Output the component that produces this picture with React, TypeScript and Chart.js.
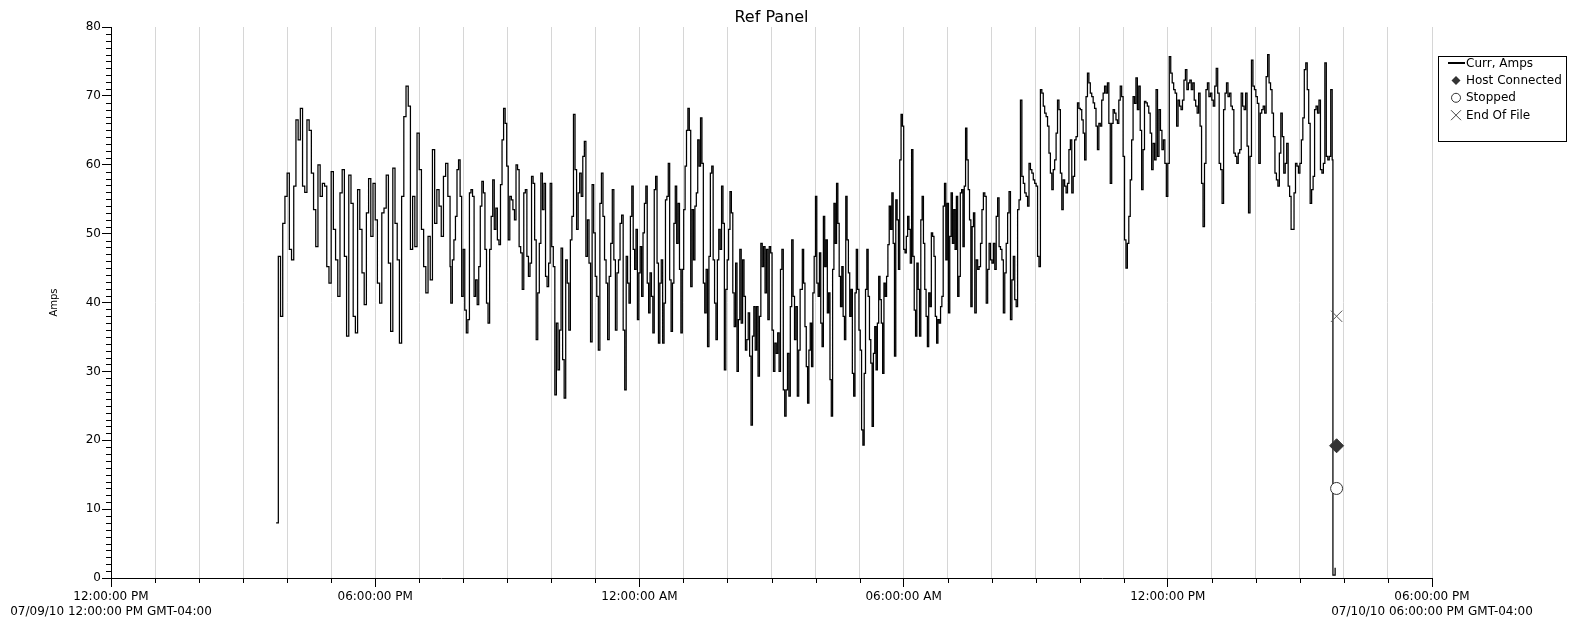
import React, { useEffect, useRef } from 'react';
import { Chart, registerables } from 'chart.js';

Chart.register(...registerables);

// ---- axis description (hours after 07/09/10 12:00:00 PM) ----
const axisStartHour = 0;
const axisEndHour = 30;
const majorTickHours = [0, 6, 12, 18, 24, 30];
const majorTickLabels = ['12:00:00 PM', '06:00:00 PM', '12:00:00 AM', '06:00:00 AM', '12:00:00 PM', '06:00:00 PM'];
const startDateLabel = '07/09/10 12:00:00 PM GMT-04:00';
const endDateLabel = '07/10/10 06:00:00 PM GMT-04:00';
const yMin = 0;
const yMax = 80;

const chartTitle = 'Ref Panel';
const yAxisTitle = 'Amps';
const seriesLabel = 'Curr, Amps';

// ---- sampled current, split into consecutive recording segments ----
// minutes after 12:00:00 PM on 07/09/10 (first and last reading of each segment)
const segmentStartMin = [225, 463, 702, 942, 1179, 1418];
const segmentEndMin = [462, 700, 939, 1177, 1416, 1664];

const amps1545to1942 = [8, 46.7, 38, 51.5, 55.4, 58.8, 47.7, 46.2, 56.9, 66.5, 63.6, 68.2, 56.9, 56, 66.5, 65, 58.8, 53.5, 48.1, 60, 55.4, 57.3, 56.9, 45.2, 42.8, 59, 50.6, 46.2, 40.9, 55.9, 59.3, 46.7, 35.1, 58.5, 54.4, 38, 35.6, 56.4, 50.6, 44.3, 39.7, 53, 58, 49.6, 57.3, 52, 42.8, 39.9, 53, 53.7, 58.5, 45.7, 35.8, 59.5, 51.5, 46.2, 34.1, 55.4, 67, 71.4, 68.5, 47.7, 55.4, 48.1, 64.6, 59.3, 50.6, 45.2, 41.4, 49.6, 43.3, 62.2, 51.5, 56.4, 54, 49.6, 58.3, 60.2, 55.4, 45.2];

const amps1943to2340 = [39.9, 46.2, 49.1, 52.5, 59.3, 60.7, 55.4, 40.9, 47.7, 38.9, 35.6, 37.5, 55.9, 56.4, 55.4, 40.9, 43.3, 39.7, 45.2, 54, 57.6, 55.9, 47.7, 39.9, 37, 47.7, 52.5, 57.8, 50.6, 53.7, 49.1, 48.4, 57.1, 63.6, 68.2, 66, 59.8, 49.1, 55.4, 54.9, 53.5, 52, 60, 59.3, 48.1, 47.2, 41.9, 55.9, 56.4, 46.7, 43.8, 45.7, 58.3, 57.3, 49.1, 34.6, 41.4, 48.6, 58.8, 53.5, 57.3, 43.8, 42.3, 45.7, 57.3, 48.1, 45.2, 26.6, 37, 30.2, 36, 47.9, 31.7, 26.1, 46.2, 42.8, 36, 49.1, 52.5, 67.3, 59.3, 50.6, 55.9, 58.8, 55.4, 61.2, 63.4, 46.7, 52, 45.7, 34.3, 57.1, 50.1, 43.8, 40.9, 33.1, 54.4, 58.8, 52.5, 46.2, 42.8, 34.6, 43.8, 48.6, 56.4, 46.2, 36, 44.3, 46.2, 51.5, 52.7, 36, 27.3];

const amps2342to0339 = [46.7, 42.8, 39.9, 52.5, 56.9, 47.7, 44.8, 50.6, 37.5, 44.3, 48.1, 40.9, 50.1, 54.4, 56.9, 42.8, 38.5, 44.3, 40.9, 35.6, 56.4, 58.3, 45.7, 34.1, 42.8, 46.2, 34.1, 39.9, 54.9, 55.4, 60.2, 43.3, 35.8, 42.8, 51.5, 56.9, 48.6, 54.4, 44.8, 35.6, 44.8, 53.5, 59.8, 65, 68.2, 65, 42.3, 53.5, 46.2, 54, 55.9, 63.6, 59.8, 66.8, 60.2, 42.8, 38.5, 44.8, 33.6, 46.7, 58.8, 59.8, 46.2, 39.9, 34.6, 46.2, 50.6, 47.7, 56.9, 51.5, 30.2, 41.9, 46.2, 50.6, 56.1, 53, 41.4, 36.5, 45.7, 30, 37.5, 47.7, 37, 46.2, 40.9, 33.1, 34.6, 38.5, 32.2, 22.2, 35.1, 39.4, 33.1, 39.4, 29.3, 38, 48.6, 45.2, 48.1, 41.4, 47.7, 37.5, 48.1, 47.2, 36, 30, 34.1, 32.6, 35.6, 30, 44.8, 47.7, 27.3, 23.5, 27.3, 32.6, 26.4, 39.4, 49.1, 40.9, 34.6, 39.4, 26.4, 33.1, 41.9];

const amps0342to0737 = [47.7, 42.8, 36.5, 30.7, 25.4, 33.1, 37, 30.7, 41.4, 46.7, 55.4, 42.8, 40.9, 47.2, 37, 33.6, 52.5, 45.2, 49.1, 38.5, 41.4, 28.8, 23.5, 44.8, 54.4, 48.6, 57.3, 51.5, 43.8, 39.4, 45.2, 38, 34.6, 55.4, 49.1, 44.3, 38, 41.9, 29.7, 26.4, 41.4, 47.7, 41.9, 36, 33.1, 21.5, 19.3, 29.7, 41.9, 47.7, 40.9, 34.6, 31.2, 22, 32.6, 36.5, 30.2, 37, 43.8, 40.4, 37, 29.7, 42.8, 40.9, 43.8, 48.4, 54, 50.6, 55.9, 48.6, 32.2, 54.9, 52, 44.8, 60.7, 67.3, 65.6, 47.7, 47.2, 49.6, 52.5, 50.6, 45.7, 62.2, 46.7, 38.9, 35.1, 45.7, 41.9, 35.1, 52, 55.4, 48.6, 41.9, 38, 33.6, 41.4, 39.4, 50.1, 49.6, 46.7, 38, 34.1, 37.5, 37, 39.4, 40.9, 54, 57.3, 46.2, 54.4, 38.5, 49.6, 55.9, 48.6, 53.5, 47.7, 55.4, 40.9, 43.8, 55.9, 56.4, 48.1, 56.9, 65.3, 60.7, 56.4, 52, 39.4, 51, 53, 38.5];

const amps0739to1136 = [46.2, 44.8, 45.2, 48.6, 53.5, 55.9, 55.4, 39.9, 44.8, 48.6, 46.2, 45.7, 48.6, 44.8, 52.5, 55.2, 48.1, 47.7, 46.2, 38.5, 44.3, 48.6, 53, 56.1, 37.5, 43.3, 46.7, 40.4, 39.4, 53.5, 54.9, 69.4, 58.3, 57.3, 55.9, 55.4, 54, 60.2, 59.3, 58.8, 57.8, 57.3, 56.9, 46.7, 45.2, 70.9, 70.4, 68.5, 67.5, 67, 65.6, 61.7, 58.8, 56.4, 59.3, 60.7, 64.6, 69.4, 68, 58.8, 53.5, 57.8, 56.9, 55.9, 57.3, 62.2, 63.6, 55.9, 58.3, 63.6, 64.1, 69, 68.2, 68, 66.5, 64.6, 60.7, 69.9, 73.3, 71.9, 70.4, 69.9, 69, 68.2, 65.6, 62.2, 66, 65.6, 69.4, 70.4, 71.4, 70.4, 71.9, 66, 57.3, 66, 68, 67.5, 66.5, 66, 69.4, 71.4, 69.9, 61.2, 49.1, 45, 48.6, 52.5, 57.8, 63.6, 69.9, 68.9, 72.6, 68, 71.4, 65, 56.4, 62.2, 69.2, 69, 68.5, 67.5, 64.6];

const amps1138to1544 = [59.3, 63.1, 60.7, 70.9, 61.2, 68, 65, 62.2, 63.6, 60.2, 55.4, 60.2, 75.7, 73.3, 71.9, 70.9, 70.4, 65.6, 69.4, 68.5, 68, 69.4, 72.3, 73.8, 70.9, 71.9, 72.3, 70.9, 71.9, 69.4, 68.5, 67.5, 70.4, 65.6, 57.3, 51, 60.2, 70.9, 71.9, 69.9, 70.4, 69.4, 68.5, 71.4, 74, 70.4, 60.2, 59.3, 54.4, 68, 70.4, 71.9, 69.9, 70.4, 68.5, 68, 61.7, 61.2, 60.2, 61.7, 62.2, 70.4, 68.5, 68, 70.4, 62.7, 53, 61.2, 75.2, 71.4, 70.9, 69.9, 68.9, 60.2, 67.5, 68, 68.5, 67.5, 72.8, 76, 71.9, 70.9, 67.5, 64.1, 58.8, 57.8, 56.9, 61.7, 67.5, 64.1, 58.8, 60.2, 63.1, 56.9, 55.4, 50.6, 50.6, 55.9, 60.2, 59.8, 58.8, 60.2, 63.6, 66.8, 73.8, 74.8, 70.9, 66, 54.4, 56.4, 58.3, 68, 68.5, 67.5, 69.4, 59.3, 58.8, 60.2, 74.8, 61.2, 60.7, 61.2, 70.9, 60.7];

const segmentValues = [amps1545to1942, amps1943to2340, amps2342to0339, amps0342to0737, amps0739to1136, amps1138to1544];

// shutdown at the end of the file
const shutdownMin = [1665, 1668];
const shutdownAmps = [0.4, 1.5];

// ---- events ----
const eventLabels = ['Host Connected', 'Stopped', 'End Of File'];
const eventMin = [1670, 1670, 1670];
const eventAmps = [19.2, 13, 38];
const eventPointStyles = ['rectRot', 'circle', 'crossRot'];

function buildSeries() {
  const pts: { x: number; y: number }[] = [];
  segmentValues.forEach((vals, s) => {
    const a = segmentStartMin[s];
    const b = segmentEndMin[s];
    const n = vals.length;
    vals.forEach((v, i) => {
      const t = n > 1 ? a + ((b - a) * i) / (n - 1) : a;
      pts.push({ x: t / 60, y: v });
    });
  });
  shutdownMin.forEach((t, i) => pts.push({ x: t / 60, y: shutdownAmps[i] }));
  return pts;
}

const FONT = '"DejaVu Sans", Verdana, sans-serif';

const decorPlugin = {
  id: 'decor',
  afterDraw(chart: any) {
    const ctx = chart.ctx as CanvasRenderingContext2D;
    const area = chart.chartArea;
    const xs = chart.scales.x;
    const ys = chart.scales.y;
    ctx.save();
    // minor ticks
    ctx.strokeStyle = '#000';
    ctx.lineWidth = 1;
    ctx.beginPath();
    ys.ticks.forEach((t: any) => {
      if (t.value % 10 !== 0) {
        const py = Math.round(ys.getPixelForValue(t.value)) + 0.5;
        ctx.moveTo(area.left - 5, py);
        ctx.lineTo(area.left, py);
      }
    });
    xs.ticks.forEach((t: any) => {
      if (t.value % 6 !== 0) {
        const px = Math.round(xs.getPixelForValue(t.value)) + 0.5;
        ctx.moveTo(px, area.bottom);
        ctx.lineTo(px, area.bottom + 5);
      }
    });
    ctx.stroke();

    // title
    ctx.fillStyle = '#000';
    ctx.font = `16px ${FONT}`;
    ctx.textAlign = 'center';
    ctx.textBaseline = 'middle';
    ctx.fillText(chartTitle, (area.left + area.right) / 2, 18);

    // legend
    const bx = area.right + 6;
    const by = 56;
    const bw = 128;
    const bh = 85;
    ctx.strokeStyle = '#000';
    ctx.lineWidth = 1;
    ctx.strokeRect(bx + 0.5, by + 0.5, bw, bh);
    ctx.font = `12px ${FONT}`;
    ctx.textAlign = 'left';
    chart.data.datasets.forEach((ds: any, i: number) => {
      const cy = by + 7 + i * 17.4;
      const mx = bx + 18;
      ctx.strokeStyle = '#000';
      ctx.fillStyle = '#000';
      if (i === 0) {
        ctx.lineWidth = 2;
        ctx.beginPath();
        ctx.moveTo(bx + 10, cy);
        ctx.lineTo(bx + 27, cy);
        ctx.stroke();
      } else if (ds.pointStyle === 'rectRot') {
        ctx.fillStyle = '#333';
        ctx.beginPath();
        ctx.moveTo(mx, cy - 4.5);
        ctx.lineTo(mx + 4.5, cy);
        ctx.lineTo(mx, cy + 4.5);
        ctx.lineTo(mx - 4.5, cy);
        ctx.closePath();
        ctx.fill();
      } else if (ds.pointStyle === 'circle') {
        ctx.lineWidth = 1;
        ctx.strokeStyle = '#333';
        ctx.beginPath();
        ctx.arc(mx, cy, 4.5, 0, Math.PI * 2);
        ctx.stroke();
      } else {
        ctx.lineWidth = 1;
        ctx.strokeStyle = '#444';
        ctx.beginPath();
        ctx.moveTo(mx - 5, cy - 5);
        ctx.lineTo(mx + 5, cy + 5);
        ctx.moveTo(mx + 5, cy - 5);
        ctx.lineTo(mx - 5, cy + 5);
        ctx.stroke();
      }
      ctx.fillStyle = '#000';
      ctx.fillText(ds.label, bx + 28, cy + 0.5);
    });
    ctx.restore();
  },
};

export default function App() {
  const ref = useRef<HTMLCanvasElement | null>(null);

  useEffect(() => {
    document.body.style.margin = '0';
    const canvas = ref.current;
    if (!canvas) return;

    const eventDatasets = eventLabels.map((label, i) => ({
      type: 'line' as const,
      label,
      data: [{ x: eventMin[i] / 60, y: eventAmps[i] }],
      showLine: false,
      pointStyle: eventPointStyles[i],
      pointRadius: i === 0 ? 7 : i === 1 ? 6 : 8,
      pointBorderWidth: 1,
      pointBorderColor: i === 2 ? '#555' : '#333',
      pointBackgroundColor: i === 0 ? '#333' : '#fff',
      borderColor: '#333',
      backgroundColor: i === 0 ? '#333' : '#fff',
      order: 0,
    }));

    const chart = new Chart(canvas, {
      type: 'line',
      data: {
        datasets: [
          {
            label: seriesLabel,
            data: buildSeries(),
            borderColor: '#000',
            borderWidth: 1.25,
            pointRadius: 0,
            stepped: true,
            fill: false,
            order: 1,
          },
          ...eventDatasets,
        ] as any,
      },
      options: {
        responsive: false,
        animation: false,
        events: [],
        layout: { padding: { left: 0, right: 143, top: 27, bottom: 0 } },
        plugins: {
          legend: { display: false },
          title: { display: false },
          tooltip: { enabled: false },
        },
        scales: {
          x: {
            type: 'linear',
            min: axisStartHour,
            max: axisEndHour,
            afterFit: (scale: any) => {
              scale.height = 42;
            },
            border: { display: true, color: '#000', width: 1 },
            grid: {
              display: true,
              drawOnChartArea: true,
              drawTicks: true,
              color: '#d6d6d6',
              lineWidth: 1,
              tickLength: 9,
              tickColor: (c: any) => (c.tick && c.tick.value % 6 === 0 ? '#000' : 'rgba(0,0,0,0)'),
            },
            ticks: {
              stepSize: 1,
              autoSkip: false,
              maxRotation: 0,
              minRotation: 0,
              padding: 2,
              color: '#000',
              font: { family: FONT, size: 12, lineHeight: 1.25 },
              callback: (value: any) => {
                const idx = majorTickHours.indexOf(Number(value));
                if (idx < 0) return '';
                if (idx === 0) return [majorTickLabels[idx], startDateLabel];
                if (idx === majorTickHours.length - 1) return [majorTickLabels[idx], endDateLabel];
                return majorTickLabels[idx];
              },
            },
          },
          y: {
            type: 'linear',
            min: yMin,
            max: yMax,
            afterFit: (scale: any) => {
              scale.width = 111;
            },
            border: { display: true, color: '#000', width: 1 },
            grid: {
              display: true,
              drawOnChartArea: false,
              drawTicks: true,
              tickLength: 9,
              tickColor: (c: any) => (c.tick && c.tick.value % 10 === 0 ? '#000' : 'rgba(0,0,0,0)'),
            },
            title: {
              display: true,
              text: yAxisTitle,
              color: '#000',
              font: { family: FONT, size: 10 },
              padding: { top: 48, bottom: 0 },
            },
            ticks: {
              stepSize: 1,
              autoSkip: false,
              padding: 1,
              color: '#000',
              font: { family: FONT, size: 12 },
              callback: (value: any) => (Number(value) % 10 === 0 ? String(value) : ''),
            },
          },
        },
      } as any,
      plugins: [decorPlugin],
    });

    return () => {
      chart.destroy();
    };
  }, []);

  return (
    <div style={{ width: 1575, height: 620, background: '#fff' }}>
      <canvas ref={ref} width={1575} height={620} style={{ display: 'block' }} />
    </div>
  );
}
